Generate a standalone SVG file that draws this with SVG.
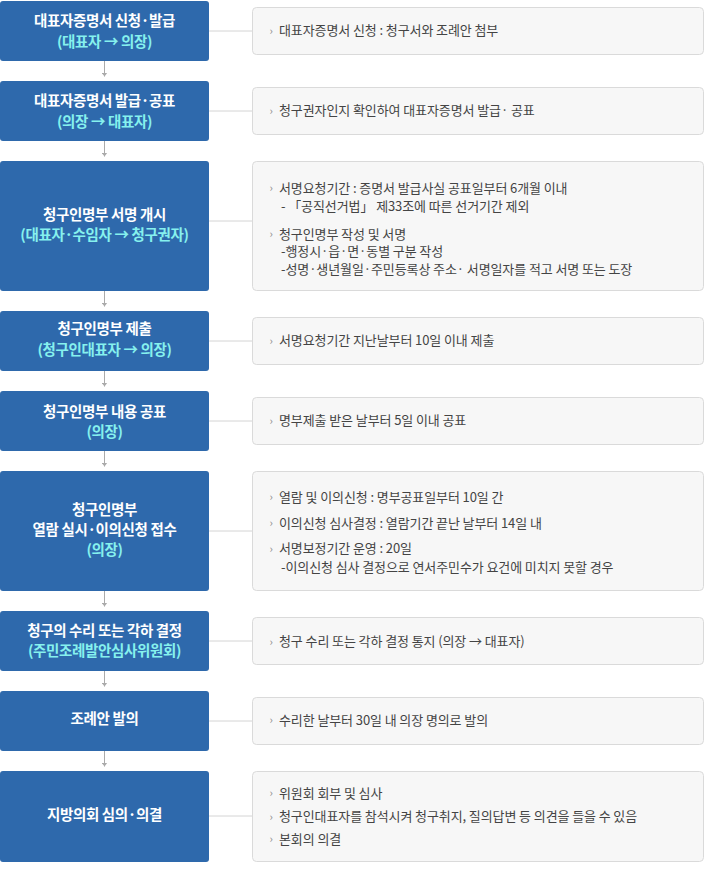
<svg xmlns="http://www.w3.org/2000/svg" width="704" height="870" viewBox="0 0 704 870">
<defs>
<style>
.step{fill:#2e69ac}
.info{fill:#f7f7f7;stroke:#dadada;stroke-width:1}
.t{font-family:"Noto Sans CJK KR","Noto Sans",sans-serif;font-size:14.5px;font-weight:bold;fill:#ffffff;text-anchor:middle;letter-spacing:-0.35px}
.c{fill:#86f1ee}
.d{font-family:"Noto Sans CJK KR","Noto Sans",sans-serif;font-size:13px;fill:#444444;letter-spacing:-0.1px}
.b{font-family:"Noto Sans CJK KR","Noto Sans",sans-serif;font-size:11px;fill:#888888}
.h{stroke:#d4d4d4;stroke-width:1;fill:none}
.v{stroke:#aaaaaa;stroke-width:1;fill:none;marker-end:url(#ah)}
</style>
<marker id="ah" markerUnits="userSpaceOnUse" markerWidth="5" markerHeight="6" refX="4" refY="3" orient="auto">
<path d="M0,0 L4,3 L0,6 z" fill="#aaaaaa"/>
</marker>
</defs>
<g id="connectors">
<path class="h" d="M209,31H252.5"/>
<path class="h" d="M209,111H252.5"/>
<path class="h" d="M209,221H252.5"/>
<path class="h" d="M209,341H252.5"/>
<path class="h" d="M209,421H252.5"/>
<path class="h" d="M209,531H252.5"/>
<path class="h" d="M209,641H252.5"/>
<path class="h" d="M209,721H252.5"/>
<path class="h" d="M209,816H252.5"/>
<path class="v" d="M104.5,61V76.5"/>
<path class="v" d="M104.5,141V156.5"/>
<path class="v" d="M104.5,291V306.5"/>
<path class="v" d="M104.5,371V386.5"/>
<path class="v" d="M104.5,451V466.5"/>
<path class="v" d="M104.5,591V606.5"/>
<path class="v" d="M104.5,671V686.5"/>
<path class="v" d="M104.5,751V766.5"/>
</g>
<g id="step1">
<rect class="step" x="0" y="1" width="209" height="60" rx="3"/>
<text class="t" x="104.5" y="25.5">대표자증명서 신청·발급</text>
<text class="t c" x="104.5" y="46.5">(대표자 → 의장)</text>
<rect class="info" x="252.5" y="7.5" width="451" height="47" rx="4"/>
<text class="b" x="269.5" y="34.5">›</text>
<text class="d" x="279" y="35">대표자증명서 신청 : 청구서와 조례안 첨부</text>
</g>
<g id="step2">
<rect class="step" x="0" y="81" width="209" height="60" rx="3"/>
<text class="t" x="104.5" y="105.5">대표자증명서 발급·공표</text>
<text class="t c" x="104.5" y="126.5">(의장 → 대표자)</text>
<rect class="info" x="252.5" y="87.5" width="451" height="47" rx="4"/>
<text class="b" x="269.5" y="114.5">›</text>
<text class="d" x="279" y="115">청구권자인지 확인하여 대표자증명서 발급· 공표</text>
</g>
<g id="step3">
<rect class="step" x="0" y="161" width="209" height="130" rx="3"/>
<text class="t" x="104.5" y="220">청구인명부 서명 개시</text>
<text class="t c" x="104.5" y="240">(대표자·수임자 → 청구권자)</text>
<rect class="info" x="252.5" y="161.5" width="451" height="129" rx="4"/>
<text class="b" x="269.5" y="192">›</text>
<text class="d" x="279" y="192.5">서명요청기간 : 증명서 발급사실 공표일부터 6개월 이내</text>
<text class="d" x="281" y="211">- 「공직선거법」 제33조에 따른 선거기간 제외</text>
<text class="b" x="269.5" y="238">›</text>
<text class="d" x="279" y="238.5">청구인명부 작성 및 서명</text>
<text class="d" x="281" y="256">-행정시·읍·면·동별 구분 작성</text>
<text class="d" x="281" y="273.5">-성명·생년월일·주민등록상 주소· 서명일자를 적고 서명 또는 도장</text>
</g>
<g id="step4">
<rect class="step" x="0" y="311" width="209" height="60" rx="3"/>
<text class="t" x="104.5" y="333.5">청구인명부 제출</text>
<text class="t c" x="104.5" y="355">(청구인대표자 → 의장)</text>
<rect class="info" x="252.5" y="317.5" width="451" height="47" rx="4"/>
<text class="b" x="269.5" y="344.5">›</text>
<text class="d" x="279" y="345">서명요청기간 지난날부터 10일 이내 제출</text>
</g>
<g id="step5">
<rect class="step" x="0" y="391" width="209" height="60" rx="3"/>
<text class="t" x="104.5" y="416.5">청구인명부 내용 공표</text>
<text class="t c" x="104.5" y="436.5">(의장)</text>
<rect class="info" x="252.5" y="397.5" width="451" height="47" rx="4"/>
<text class="b" x="269.5" y="424.5">›</text>
<text class="d" x="279" y="425">명부제출 받은 날부터 5일 이내 공표</text>
</g>
<g id="step6">
<rect class="step" x="0" y="471" width="209" height="120" rx="3"/>
<text class="t" x="104.5" y="515">청구인명부</text>
<text class="t" x="104.5" y="535">열람 실시·이의신청 접수</text>
<text class="t c" x="104.5" y="555">(의장)</text>
<rect class="info" x="252.5" y="471.5" width="451" height="119" rx="4"/>
<text class="b" x="269.5" y="501">›</text>
<text class="d" x="279" y="501.5">열람 및 이의신청 : 명부공표일부터 10일 간</text>
<text class="b" x="269.5" y="527">›</text>
<text class="d" x="279" y="527.5">이의신청 심사결정 : 열람기간 끝난 날부터 14일 내</text>
<text class="b" x="269.5" y="552.5">›</text>
<text class="d" x="279" y="553">서명보정기간 운영 : 20일</text>
<text class="d" x="281" y="571.5">-이의신청 심사 결정으로 연서주민수가 요건에 미치지 못할 경우</text>
</g>
<g id="step7">
<rect class="step" x="0" y="611" width="209" height="60" rx="3"/>
<text class="t" x="104.5" y="635.5">청구의 수리 또는 각하 결정</text>
<text class="t c" x="104.5" y="655.5">(주민조례발안심사위원회)</text>
<rect class="info" x="252.5" y="617.5" width="451" height="47" rx="4"/>
<text class="b" x="269.5" y="645.5">›</text>
<text class="d" x="279" y="646">청구 수리 또는 각하 결정 통지 (의장 → 대표자)</text>
</g>
<g id="step8">
<rect class="step" x="0" y="691" width="209" height="60" rx="3"/>
<text class="t" x="104.5" y="724">조례안 발의</text>
<rect class="info" x="252.5" y="697.5" width="451" height="47" rx="4"/>
<text class="b" x="269.5" y="724">›</text>
<text class="d" x="279" y="724.5">수리한 날부터 30일 내 의장 명의로 발의</text>
</g>
<g id="step9">
<rect class="step" x="0" y="771" width="209" height="91" rx="3"/>
<text class="t" x="104.5" y="820">지방의회 심의·의결</text>
<rect class="info" x="252.5" y="771.5" width="451" height="90" rx="4"/>
<text class="b" x="269.5" y="797">›</text>
<text class="d" x="279" y="797.5">위원회 회부 및 심사</text>
<text class="b" x="269.5" y="820.5">›</text>
<text class="d" x="279" y="821">청구인대표자를 참석시켜 청구취지, 질의답변 등 의견을 들을 수 있음</text>
<text class="b" x="269.5" y="843">›</text>
<text class="d" x="279" y="843.5">본회의 의결</text>
</g>
</svg>
